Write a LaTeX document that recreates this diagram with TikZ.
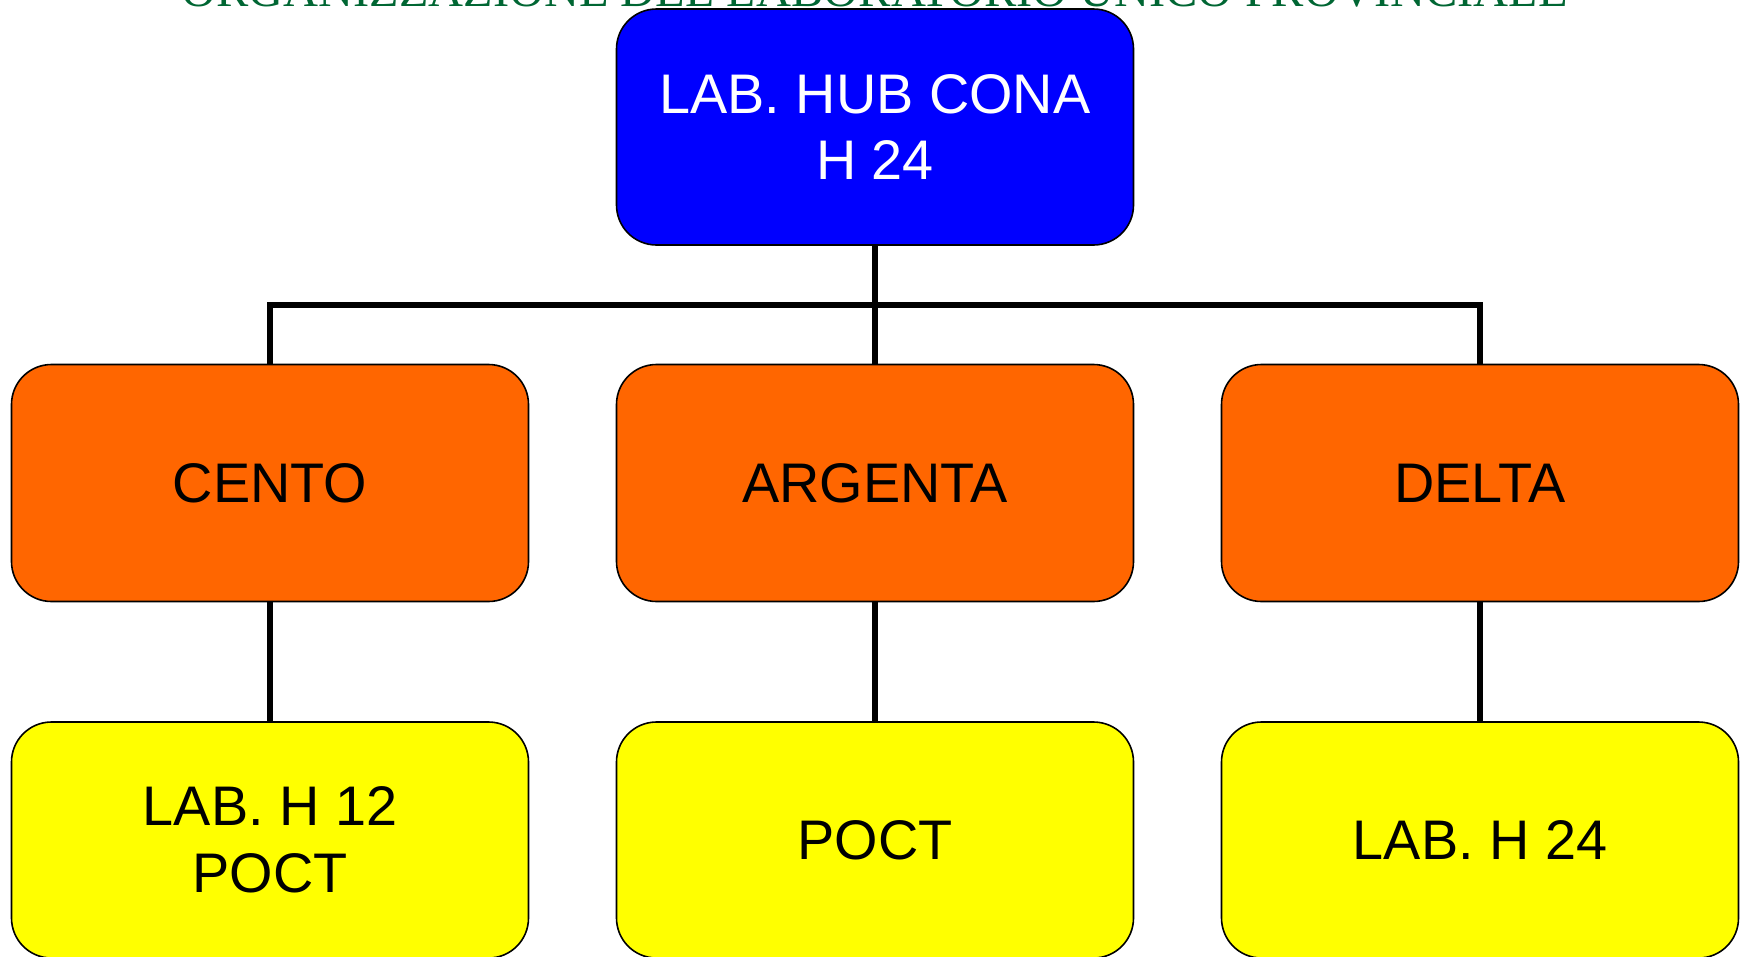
\documentclass[tikz,border=0pt]{standalone}
\usepackage{fontspec}
\setmainfont{Liberation Sans}
\newfontfamily\titlefont{Liberation Serif}
\definecolor{hubblue}{HTML}{0000FF}
\definecolor{siteorange}{HTML}{FF6600}
\definecolor{labyellow}{HTML}{FFFF00}
\definecolor{titlegreen}{HTML}{006633}
\begin{document}
\begin{tikzpicture}[x=1pt,y=-1pt,
  box/.style={draw=black, line width=1.6pt, rounded corners=40pt, inner sep=0pt,
    minimum width=517pt, align=center, font=\fontsize{55.8}{66.5}\selectfont},
  hubbox/.style={box, fill=hubblue, text=white, minimum height=236pt},
  sitebox/.style={box, fill=siteorange, text=black, minimum height=237pt},
  labbox/.style={box, fill=labyellow, text=black, minimum height=236pt},
  wire/.style={line width=6pt, black}]
\useasboundingbox (0,0) rectangle (1745,956);
\clip (0,0) rectangle (1745,956);
\fill[white] (0,0) rectangle (1745,956);
\node[anchor=base, text=titlegreen, font=\titlefont\fontsize{48.4}{58}\selectfont, inner sep=0pt] (title) at (874.5,6) {ORGANIZZAZIONE DEL LABORATORIO UNICO PROVINCIALE};
\node[hubbox] (hub) at (875,127) {LAB. HUB CONA\\H 24};
\node[sitebox] (cento) at (270,483) {CENTO};
\node[sitebox] (argenta) at (875,483) {ARGENTA};
\node[sitebox] (delta) at (1480,483) {DELTA};
\node[labbox] (lab1) at (270,840) {LAB. H 12\\POCT};
\node[labbox] (lab2) at (875,840) {POCT};
\node[labbox] (lab3) at (1480,840) {LAB. H 24};
\coordinate (bus) at (875,305);
\draw[wire] (hub.south) -- (argenta.north);
\draw[wire] (cento.north) |- (bus) -| (delta.north);
\draw[wire] (cento.south) -- (lab1.north);
\draw[wire] (argenta.south) -- (lab2.north);
\draw[wire] (delta.south) -- (lab3.north);
\end{tikzpicture}
\end{document}
